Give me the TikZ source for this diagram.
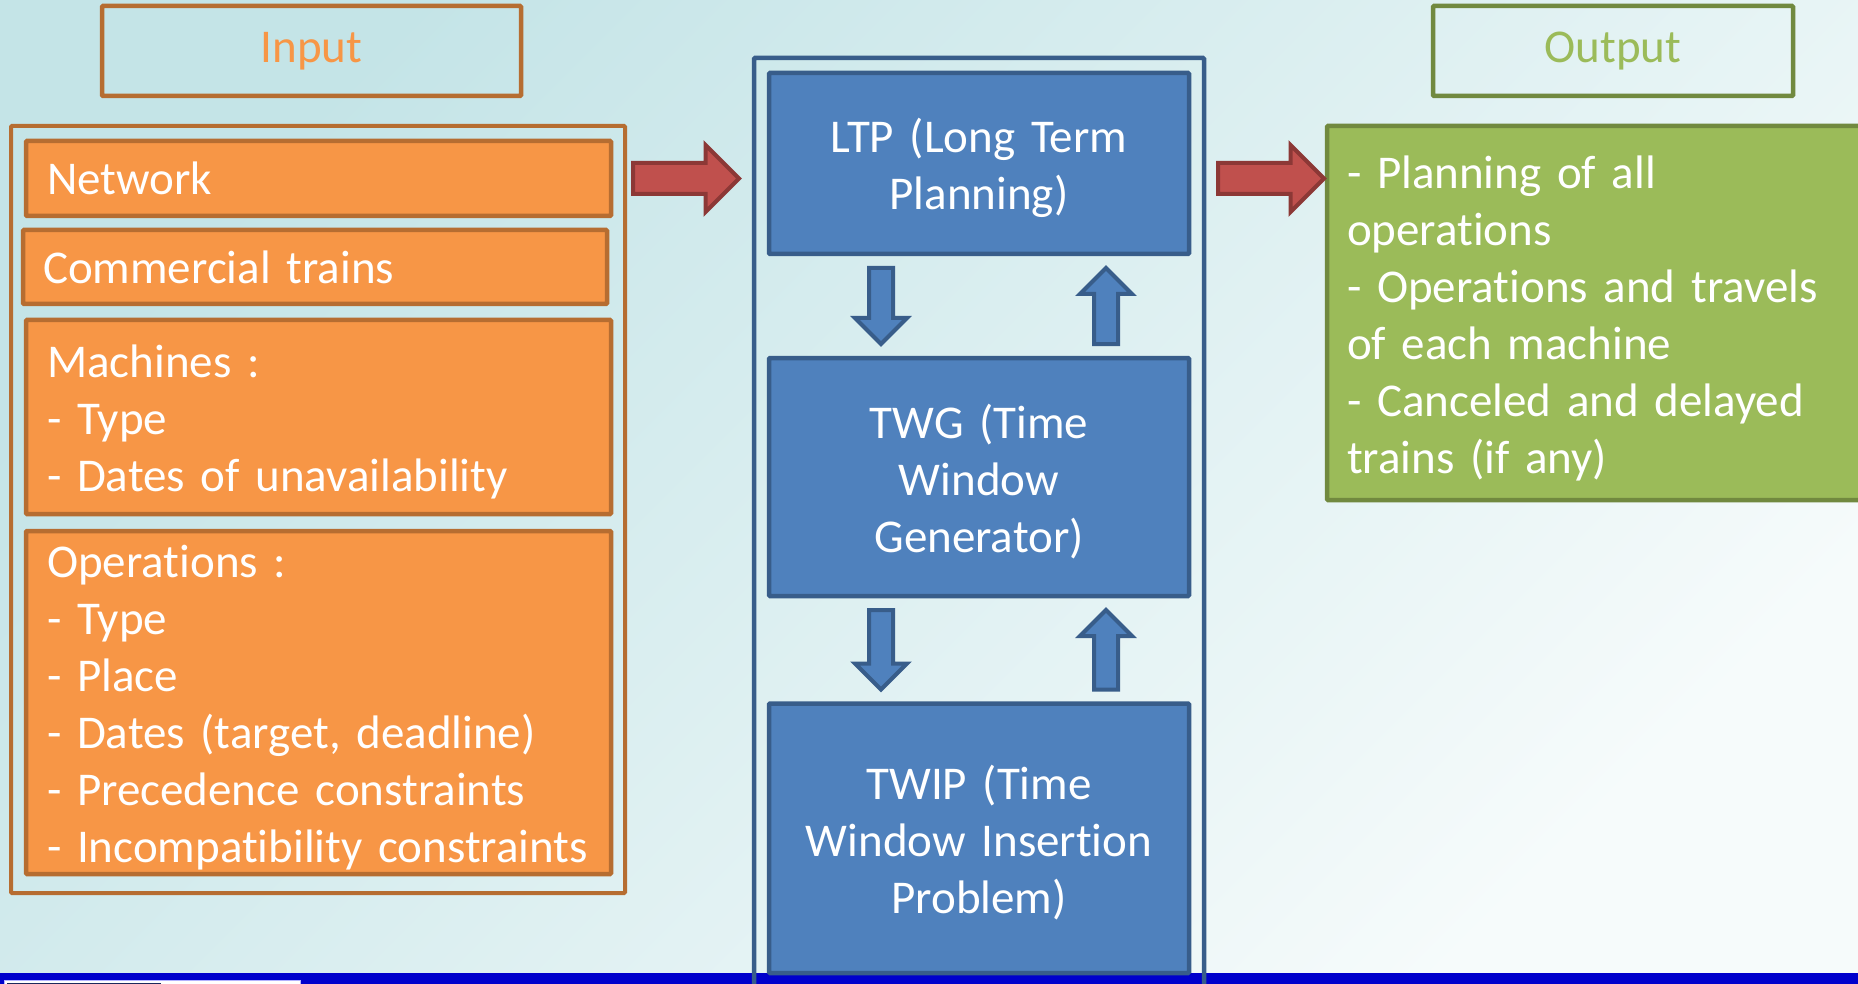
\documentclass[tikz,border=0pt]{standalone}
\usepackage{fontspec}
\setmainfont{Carlito}[Ligatures=NoCommon]
\usetikzlibrary{calc}

\definecolor{bgtop}{RGB}{196,228,231}
\definecolor{bgbot}{RGB}{246,251,251}
\definecolor{barblue}{RGB}{0,0,204}
\definecolor{barnavy}{RGB}{28,40,92}
\definecolor{orgfill}{RGB}{247,150,70}
\definecolor{orgline}{RGB}{182,109,49}
\definecolor{grnfill}{RGB}{155,187,89}
\definecolor{grnline}{RGB}{113,137,63}
\definecolor{bluefill}{RGB}{79,129,189}
\definecolor{blueline}{RGB}{56,93,138}
\definecolor{redfill}{RGB}{192,80,77}
\definecolor{redline}{RGB}{140,56,54}

% block arrow between two points: shaft half width, head half width, head length
\tikzset{
	fat arrow/.style n args={3}{to path={
		let \p1=(\tikztostart), \p2=(\tikztotarget), \n1={atan2(\y2-\y1,\x2-\x1)} in
		($(\p1)+(\n1+90:#1)$) -- ($(\p2)+(\n1+180:#3)+(\n1+90:#1)$)
		-- ($(\p2)+(\n1+180:#3)+(\n1+90:#2)$) -- (\p2)
		-- ($(\p2)+(\n1+180:#3)+(\n1-90:#2)$) -- ($(\p2)+(\n1+180:#3)+(\n1-90:#1)$)
		-- ($(\p1)+(\n1-90:#1)$) -- cycle}},
}

\begin{document}
\begin{tikzpicture}[x=1pt, y=-1pt,
	every node/.style={font=\fontsize{47}{57}\selectfont\hyphenpenalty10000\relax, inner ysep=0pt, outer sep=0pt},
	block/.style={line width=4.5pt, rounded corners=1pt},
	lines/.style={execute at begin node={\rule{0pt}{43pt}}},
	label box/.style={block, minimum height=90pt},
	inbox/.style={block, draw=orgline, fill=orgfill, text=white, align=left, inner xsep=21pt, text width=543pt},
	stepbox/.style={block, lines, draw=blueline, fill=bluefill, text=white, align=center, inner xsep=20pt, text width=380pt},
	redarrow/.style={fill=redfill, draw=redline, line width=4pt, fat arrow={15.5pt}{33.5pt}{33.5pt}},
	bluearrow/.style={fill=bluefill, draw=blueline, line width=4pt, fat arrow={12pt}{26pt}{26pt}},
	]

	% page background and bottom bar
	\useasboundingbox (0,0) rectangle (1858,984);
	\shade[top color=bgtop, bottom color=bgbot, shading angle=45] (0,0) rectangle (1858,984);
	\fill[barblue] (0,973) rectangle (1858,984);
	\filldraw[white, draw=blue!30!white, line width=1pt] (4,980.5) rectangle (300,986);
	\fill[barnavy] (7,983) rectangle (161,986);

	% headings
	\node[label box, draw=orgline, text=orgfill, minimum width=419pt] (inlbl) at (311.5,51) {Input};
	\node[label box, draw=grnline, text=grnfill, minimum width=360pt] (outlbl) at (1613,51) {Output};

	% inputs
	\node[block, draw=orgline, line width=4pt, minimum width=614pt, minimum height=767pt] (ingrp) at (318,509.5) {};
	\node[inbox, minimum height=75pt] (net) at (318.5,178.5) {Network};
	\node[inbox, inner xsep=20pt, text width=544pt, minimum height=74pt] (trains) at (315,267) {Commercial trains};
	\node[inbox, lines, minimum height=194pt] (mach) at (318.5,417) {Machines :\\- Type\\- Dates of unavailability};
	\node[inbox, lines, minimum height=343pt] (ops) at (318.5,702.5) {Operations :\\- Type\\- Place\\- Dates (target, deadline)\\- Precedence constraints\\- Incompatibility constraints};

	% method: LTP <-> TWG <-> TWIP
	\node[block, draw=blueline, minimum width=450pt, minimum height=942pt] (ctr) at (979,529) {};
	\node[stepbox, minimum height=181pt] (ltp) at (979,163.5) {LTP (Long Term\\Planning)};
	\node[stepbox, minimum height=238pt] (twg) at (979,477) {TWG (Time\\Window\\Generator)};
	\node[stepbox, minimum height=269.5pt] (twip) at (979,838.25) {TWIP (Time\\Window Insertion\\Problem)};

	% outputs
	\node[block, lines, draw=grnline, fill=grnfill, text=white, align=left, anchor=north west,
		inner xsep=20pt, text width=560pt, minimum height=374pt] (outbox) at (1327,126)
		{- Planning of all\\operations\\- Operations and travels\\of each machine\\- Canceled and delayed\\trains (if any)};

	% arrow ends
	\coordinate (r1a) at ($(ingrp.east |- net.center)+(8,0)$);
	\coordinate (r1b) at ($(ctr.west |- net.center)+(-15,0)$);
	\coordinate (r2a) at ($(ctr.east |- net.center)+(14,0)$);
	\coordinate (r2b) at ($(outbox.west |- net.center)+(-3,0)$);
	\coordinate (d1a) at ($(ltp.south)+(-98,14)$);
	\coordinate (d1b) at ($(twg.north)+(-98,-14)$);
	\coordinate (u1a) at ($(twg.north)+(127,-14)$);
	\coordinate (u1b) at ($(ltp.south)+(127,14)$);
	\coordinate (d2a) at ($(twg.south)+(-98,14)$);
	\coordinate (d2b) at ($(twip.north)+(-98,-14)$);
	\coordinate (u2a) at ($(twip.north)+(127,-14)$);
	\coordinate (u2b) at ($(twg.south)+(127,14)$);

	% connectors
	\draw[redarrow] (r1a) to (r1b);
	\draw[redarrow] (r2a) to (r2b);
	\draw[bluearrow] (d1a) to (d1b);
	\draw[bluearrow] (u1a) to (u1b);
	\draw[bluearrow] (d2a) to (d2b);
	\draw[bluearrow] (u2a) to (u2b);

\end{tikzpicture}
\end{document}
